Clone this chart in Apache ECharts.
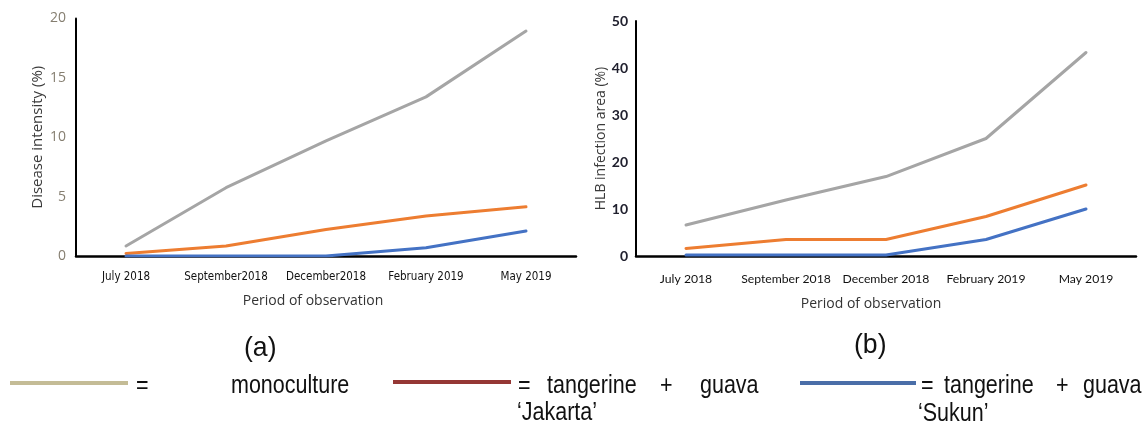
<!DOCTYPE html>
<html>
<head>
<meta charset="utf-8">
<script src="https://cdn.jsdelivr.net/npm/echarts@6/dist/echarts.min.js"></script>
<style>
html,body{margin:0;padding:0;background:#fff;}
#chart{width:1144px;height:430px;}
</style>
</head>
<body>
<div id="chart"></div>
<script>
// Categories
const categoriesA = ['July 2018', 'September2018', 'December2018', 'February 2019', 'May 2019'];
const categoriesB = ['July 2018', 'September 2018', 'December 2018', 'February 2019', 'May 2019'];
// (a) Disease intensity (%)
const monoA = [0.84, 5.75, 9.7, 13.4, 18.95];
const jakartaA = [0.22, 0.84, 2.24, 3.36, 4.14];
const sukunA = [0, 0, 0, 0.7, 2.1];
// (b) HLB infection area (%)
const monoB = [6.6, 11.9, 16.9, 25.0, 43.3];
const jakartaB = [1.6, 3.5, 3.5, 8.4, 15.1];
const sukunB = [0.2, 0.2, 0.2, 3.5, 10.0];
// Axis ticks
const yTicksA = {min: 0, max: 20, interval: 5};
const yTicksB = {min: 0, max: 50, interval: 10};

const chart = echarts.init(document.getElementById('chart'), null, {renderer: 'canvas'});

const GRAY = '#A5A5A5', ORANGE = '#ED7D31', BLUE = '#4472C4';
function lineSeries(data, color, idx) {
  return {
    type: 'line', data: data, xAxisIndex: idx, yAxisIndex: idx,
    showSymbol: false, symbol: 'none', smooth: false,
    lineStyle: {color: color, width: 3, cap: 'round', join: 'round'},
    silent: true, animation: false
  };
}
const condensed = "'DejaVu Sans Condensed', 'Liberation Sans', Arial, sans-serif";
const sans = "'Open Sans', 'Liberation Sans', sans-serif";
const LEG_FONT = "25px 'Liberation Sans', Arial, sans-serif";
const SX = 0.86;
function legText(text, x, y) {
  return {type: 'text', x: x, y: y, scaleX: SX,
    style: {text: text, font: LEG_FONT, fill: '#111', verticalAlign: 'middle'}};
}

const option = {
  backgroundColor: '#ffffff',
  animation: false,
  grid: [
    {left: 76, top: 18.5, width: 500, height: 237.5},
    {left: 636, top: 21, width: 500, height: 235}
  ],
  xAxis: [
    {
      type: 'category', gridIndex: 0, data: categoriesA, boundaryGap: true,
      axisLine: {lineStyle: {color: '#000', width: 2.5}},
      axisTick: {show: false},
      axisLabel: {color: '#111', fontFamily: condensed, fontSize: 11.5, margin: 15, interval: 0},
      name: 'Period of observation', nameLocation: 'middle', nameGap: 38,
      nameTextStyle: {color: '#333', fontFamily: sans, fontSize: 14, padding: [0, 26, 0, 0]}
    },
    {
      type: 'category', gridIndex: 1, data: categoriesB, boundaryGap: true,
      axisLine: {lineStyle: {color: '#000', width: 2.5}},
      axisTick: {show: false},
      axisLabel: {color: '#111', fontFamily: "Lato, 'Liberation Sans', sans-serif", fontSize: 12.2, margin: 17, interval: 0},
      name: 'Period of observation', nameLocation: 'middle', nameGap: 41,
      nameTextStyle: {color: '#333', fontFamily: sans, fontSize: 14, padding: [0, 30, 0, 0]}
    }
  ],
  yAxis: [
    {
      type: 'value', gridIndex: 0, min: yTicksA.min, max: yTicksA.max, interval: yTicksA.interval,
      axisLine: {show: true, lineStyle: {color: '#000', width: 2}},
      axisTick: {show: false}, splitLine: {show: false},
      axisLabel: {color: '#857e70', fontFamily: sans, fontSize: 14, margin: 10},
      name: 'Disease intensity (%)', nameLocation: 'middle', nameGap: 31, nameRotate: 90,
      nameTextStyle: {color: '#3a3a3a', fontFamily: sans, fontSize: 15}
    },
    {
      type: 'value', gridIndex: 1, min: yTicksB.min, max: yTicksB.max, interval: yTicksB.interval,
      axisLine: {show: true, lineStyle: {color: '#000', width: 2}},
      axisTick: {show: false}, splitLine: {show: false},
      axisLabel: {color: '#20202e', fontFamily: "Lato, 'Liberation Sans', sans-serif", fontSize: 14, fontWeight: 'bold', margin: 8},
      name: 'HLB infection area (%)', nameLocation: 'middle', nameGap: 25, nameRotate: 90,
      nameTextStyle: {color: '#3a3a3a', fontFamily: sans, fontSize: 14}
    }
  ],
  series: [
    lineSeries(monoA, GRAY, 0),
    lineSeries(jakartaA, ORANGE, 0),
    lineSeries(sukunA, BLUE, 0),
    lineSeries(monoB, GRAY, 1),
    lineSeries(jakartaB, ORANGE, 1),
    lineSeries(sukunB, BLUE, 1)
  ],
  graphic: [
    {type: 'text', x: 244, y: 348, scaleX: 0.95, style: {text: '(a)', font: "28px 'Liberation Sans', Arial", fill: '#111', verticalAlign: 'middle'}},
    {type: 'text', x: 854, y: 345, scaleX: 0.95, style: {text: '(b)', font: "28px 'Liberation Sans', Arial", fill: '#111', verticalAlign: 'middle'}},
    // legend 1
    {type: 'line', shape: {x1: 10, y1: 383, x2: 128, y2: 383}, style: {stroke: '#C4BC96', lineWidth: 4}},
    legText('=', 136, 386),
    legText('monoculture', 231, 386),
    // legend 2
    {type: 'line', shape: {x1: 393, y1: 382, x2: 511, y2: 382}, style: {stroke: '#953735', lineWidth: 4}},
    legText('=', 518, 386),
    legText('tangerine', 547, 386),
    legText('+', 660, 386),
    legText('guava', 700, 386),
    legText('\u2018Jakarta\u2019', 517, 413),
    // legend 3
    {type: 'line', shape: {x1: 800, y1: 383, x2: 916, y2: 383}, style: {stroke: '#4A6EA8', lineWidth: 4}},
    legText('=', 921, 386),
    legText('tangerine', 944, 386),
    legText('+', 1056, 386),
    legText('guava', 1083, 386),
    legText('\u2018Sukun\u2019', 918, 414)
  ]
};
chart.setOption(option);
</script>
</body>
</html>
